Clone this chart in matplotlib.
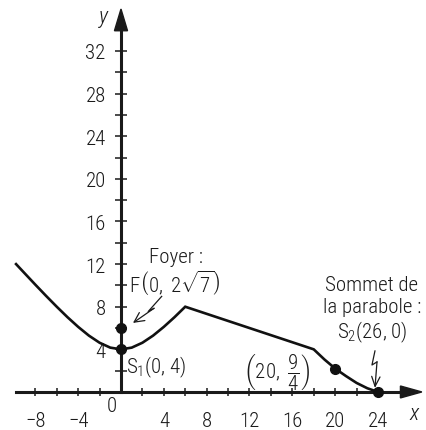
import matplotlib
matplotlib.use('Agg')
import matplotlib.pyplot as plt
from matplotlib.patches import Polygon

FONT = 'Roboto Condensed'
plt.rcParams['font.family'] = [FONT, 'Roboto', 'DejaVu Sans']
plt.rcParams['font.weight'] = 'light'
plt.rcParams['mathtext.fontset'] = 'custom'
plt.rcParams['mathtext.rm'] = FONT + ':light'
plt.rcParams['mathtext.it'] = FONT + ':italic:light'
plt.rcParams['mathtext.sf'] = FONT + ':light'
plt.rcParams['mathtext.default'] = 'regular'

# ---- data ----
curve_x = [-9.8, -9, -8, -7, -6, -5, -4, -3, -2, -1, 0, 1, 2, 3, 4, 5, 6,
           18, 19, 20, 21, 22, 23, 24]
curve_y = [12.0, 11.14, 10.07, 9.02, 8.0, 7.02, 6.11, 5.29, 4.62, 4.16, 4.0,
           4.16, 4.62, 5.29, 6.11, 7.02, 8.0,
           4.0, 3.05, 2.2, 1.5, 0.85, 0.35, 0.0]
point_x = [0, 0, 20, 24]
point_y = [6.0, 4.0, 2.2, 0.0]

x_major = [-8, -4, 4, 8, 12, 16, 20, 24]
x_major_labels = ['\u22128', '\u22124', '4', '8', '12', '16', '20', '24']
x_minor = [-8, -6, -4, -2, 2, 4, 6, 8, 10, 12, 14, 16, 18, 20, 22, 24]
y_major = [4, 8, 12, 16, 20, 24, 28, 32]
y_major_labels = ['4', '8', '12', '16', '20', '24', '28', '32']
y_minor = [2, 4, 6, 8, 10, 12, 14, 16, 18, 20, 22, 24, 26, 28, 30, 32]

INK = '#1a1a1a'
FS = 15

fig = plt.figure(figsize=(4.27, 4.31), dpi=100)
ax = fig.add_axes([0, 0, 1, 1])
ax.set_xlim(-11.30, 28.58)
ax.set_ylim(-3.57, 36.88)

for s in ['top', 'right']:
    ax.spines[s].set_visible(False)
ax.spines['left'].set_position(('data', 0))
ax.spines['bottom'].set_position(('data', 0))
ax.spines['left'].set_bounds(0, 34.2)
ax.spines['bottom'].set_bounds(-9.8, 26.4)
for s in ['left', 'bottom']:
    ax.spines[s].set_linewidth(2.2)
    ax.spines[s].set_color(INK)

ax.set_xticks(x_major)
ax.set_xticklabels(x_major_labels)
ax.set_xticks(x_minor, minor=True)
ax.set_yticks(y_major)
ax.set_yticklabels(y_major_labels)
ax.set_yticks(y_minor, minor=True)
ax.tick_params(axis='both', which='both', direction='inout', width=1.1,
               color=INK, labelsize=FS, labelcolor=INK)
ax.tick_params(axis='x', which='both', length=6)
ax.tick_params(axis='y', which='both', length=8)
ax.tick_params(axis='x', which='major', pad=11)
ax.tick_params(axis='y', which='major', pad=7)

# axis arrowheads
ax.add_patch(Polygon([[0, 35.94], [-0.61, 33.9], [0.61, 33.9]], closed=True,
                     color=INK, zorder=5, clip_on=False))
ax.add_patch(Polygon([[28.1, 0], [26.1, 0.56], [26.1, -0.56]], closed=True,
                     color=INK, zorder=5, clip_on=False))

ax.text(-1.68, 35.3, 'y', fontsize=FS + 1, style='italic', ha='center', va='center', color=INK)
ax.text(27.36, -1.97, 'x', fontsize=FS + 1, style='italic', ha='center', va='center', color=INK)
ax.text(-0.84, -1.27, '0', fontsize=FS, ha='center', va='center', color=INK)

# curve
ax.plot(curve_x, curve_y, color='#111111', lw=1.9, solid_joinstyle='miter', zorder=4)
ax.plot(point_x, point_y, 'o', color='#111111', ms=7, zorder=6)

txt_kw = dict(fontsize=FS, color=INK, ha='center', va='center')
ax.text(5.14, 12.67, 'Foyer :', **txt_kw)
ax.text(5.04, 10.32, r'F$\left(0,\ 2\sqrt{7}\right)$', **txt_kw)
ax.text(0.5, 2.44, r'S$_1$(0, 4)', fontsize=FS, color=INK, ha='left', va='center')
ax.text(14.57, 1.88, r'$\left(20,\ \dfrac{9}{4}\right)$', **txt_kw)
ax.text(23.44, 10.13, 'Sommet de', **txt_kw)
ax.text(23.44, 7.98, 'la parabole :', **txt_kw)
ax.text(23.44, 5.72, r'S$_2$(26, 0)', **txt_kw)

# lightning arrows
fa_x = [3.80, 2.54, 3.08]
fa_y = [8.97, 7.55, 7.85]
ax.plot(fa_x, fa_y, color=INK, lw=0.9)
ax.annotate('', xy=(1.12, 6.48), xytext=(fa_x[-1], fa_y[-1]),
            arrowprops=dict(arrowstyle='->,head_length=0.7,head_width=0.35',
                            lw=0.9, color=INK, shrinkA=0, shrinkB=0))
sa_x = [23.72, 23.44, 23.91]
sa_y = [3.85, 2.53, 2.82]
ax.plot(sa_x, sa_y, color=INK, lw=0.9)
ax.annotate('', xy=(23.72, 0.38), xytext=(sa_x[-1], sa_y[-1]),
            arrowprops=dict(arrowstyle='->,head_length=0.7,head_width=0.3',
                            lw=0.9, color=INK, shrinkA=0, shrinkB=0))

fig.savefig('out.png', dpi=100)
